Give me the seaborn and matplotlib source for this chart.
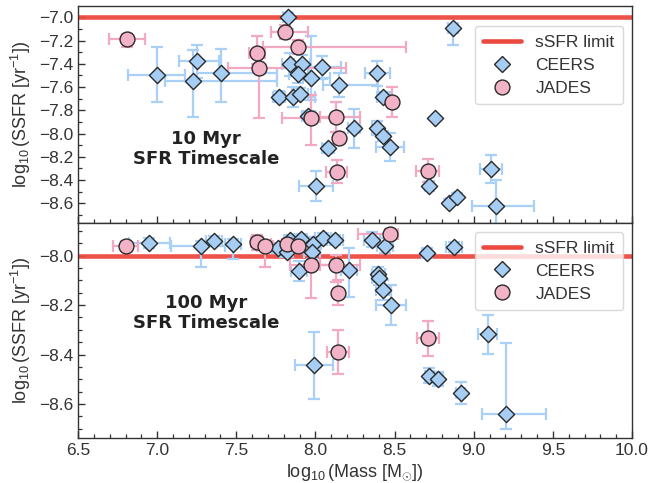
import numpy as np
import pandas as pd
import matplotlib
matplotlib.use("Agg")
import matplotlib.pyplot as plt
from matplotlib.lines import Line2D
from matplotlib.ticker import MultipleLocator, AutoMinorLocator
import seaborn as sns

# ---------------- data: 10 Myr panel ----------------
ceers10_mass = [7.825, 6.997, 7.228, 7.25, 7.405, 7.77, 7.86, 7.90, 7.84, 7.917,
                7.89, 7.97, 8.043, 8.146, 7.955, 8.244, 8.08, 8.004, 8.39, 8.43,
                8.387, 8.43, 8.47, 8.755, 8.87, 9.107, 8.72, 8.845, 8.896, 9.14]
ceers10_ssfr = [-6.995, -7.50, -7.548, -7.376, -7.476, -7.683, -7.683, -7.66, -7.404, -7.404,
                -7.488, -7.525, -7.43, -7.582, -7.849, -7.955, -8.127, -8.449, -7.482, -7.683,
                -7.955, -8.02, -8.113, -7.869, -7.095, -8.308, -8.449, -8.595, -8.543, -8.62]
ceers10_xlo = [0.03, 0.18, 0.18, 0.11, 0.155, 0.04, 0.10, 0.05, 0.05, 0.05,
               0.06, 0.05, 0.08, 0.10, 0.04, 0.04, 0.04, 0.11, 0.08, 0.04,
               0.03, 0.03, 0.09, 0.0, 0.03, 0.07, 0.03, 0.02, 0.02, 0.15]
ceers10_xhi = [0.03, 0.18, 0.53, 0.14, 0.35, 0.04, 0.14, 0.05, 0.08, 0.05,
               0.06, 0.12, 0.12, 0.25, 0.04, 0.04, 0.04, 0.11, 0.08, 0.04,
               0.03, 0.03, 0.09, 0.0, 0.03, 0.07, 0.03, 0.02, 0.02, 0.24]
ceers10_ylo = [0.11, 0.23, 0.31, 0.15, 0.25, 0.05, 0.09, 0.05, 0.10, 0.08,
               0.08, 0.19, 0.10, 0.10, 0.04, 0.17, 0.04, 0.13, 0.11, 0.04,
               0.06, 0.04, 0.12, 0.0, 0.14, 0.12, 0.03, 0.03, 0.03, 0.20]
ceers10_yhi = [0.03, 0.24, 0.27, 0.14, 0.20, 0.05, 0.08, 0.05, 0.10, 0.08,
               0.08, 0.36, 0.10, 0.10, 0.04, 0.17, 0.04, 0.13, 0.11, 0.04,
               0.06, 0.04, 0.12, 0.0, 0.02, 0.12, 0.03, 0.03, 0.03, 0.22]

jades10_mass = [6.81, 7.63, 7.645, 7.81, 7.89, 7.97, 8.13, 8.15, 8.134, 8.486, 8.709]
jades10_ssfr = [-7.187, -7.304, -7.433, -7.129, -7.253, -7.869, -7.86, -8.036, -8.328, -7.726, -8.319]
jades10_xlo = [0.115, 0.05, 0.20, 0.09, 0.22, 0.18, 0.10, 0.03, 0.065, 0.03, 0.074]
jades10_xhi = [0.115, 0.05, 0.55, 0.145, 0.68, 0.13, 0.15, 0.03, 0.065, 0.03, 0.074]
jades10_ylo = [0.07, 0.10, 0.43, 0.06, 0.06, 0.23, 0.13, 0.05, 0.10, 0.13, 0.10]
jades10_yhi = [0.04, 0.14, 0.10, 0.06, 0.06, 0.20, 0.13, 0.05, 0.10, 0.13, 0.10]

# ---------------- data: 100 Myr panel ----------------
ceers100_mass = [6.95, 7.28, 7.36, 7.48, 7.765, 7.818, 7.84, 7.907, 7.898, 7.986,
                 7.976, 8.046, 8.124, 8.214, 7.99, 8.355, 8.44, 8.703, 8.875, 8.397,
                 8.40, 8.425, 8.477, 9.088, 8.72, 8.776, 8.917, 9.204]
ceers100_ssfr = [-7.95, -7.961, -7.94, -7.953, -7.968, -7.984, -7.937, -7.932, -8.062, -7.953,
                 -7.984, -7.927, -7.936, -8.058, -8.443, -7.936, -7.96, -7.988, -7.964, -8.075,
                 -8.09, -8.139, -8.20, -8.318, -8.486, -8.499, -8.557, -8.642]
ceers100_xlo = [0.13, 0.19, 0.05, 0.05, 0.04, 0.04, 0.04, 0.04, 0.05, 0.05,
                0.05, 0.05, 0.05, 0.05, 0.12, 0.05, 0.05, 0.03, 0.05, 0.04,
                0.04, 0.04, 0.093, 0.06, 0.03, 0.03, 0.03, 0.15]
ceers100_xhi = [0.13, 0.15, 0.05, 0.05, 0.04, 0.04, 0.04, 0.04, 0.05, 0.05,
                0.05, 0.05, 0.05, 0.05, 0.12, 0.05, 0.05, 0.03, 0.05, 0.04,
                0.04, 0.04, 0.093, 0.06, 0.03, 0.03, 0.03, 0.25]
ceers100_ylo = [0.02, 0.085, 0.02, 0.06, 0.02, 0.02, 0.02, 0.02, 0.04, 0.03,
                0.03, 0.02, 0.02, 0.11, 0.135, 0.03, 0.03, 0.02, 0.02, 0.03,
                0.03, 0.04, 0.08, 0.08, 0.03, 0.03, 0.045, 0.06]
ceers100_yhi = [0.02, 0.02, 0.02, 0.02, 0.02, 0.02, 0.02, 0.02, 0.04, 0.03,
                0.03, 0.02, 0.02, 0.09, 0.135, 0.03, 0.03, 0.02, 0.02, 0.03,
                0.03, 0.04, 0.08, 0.08, 0.03, 0.03, 0.045, 0.29]

jades100_mass = [6.80, 7.63, 7.68, 7.82, 7.888, 7.97, 8.13, 8.145, 8.145, 8.47, 8.709]
jades100_ssfr = [-7.961, -7.946, -7.961, -7.953, -7.961, -8.038, -8.038, -8.15, -8.389, -7.913, -8.334]
jades100_xlo = [0.08, 0.04, 0.05, 0.10, 0.05, 0.13, 0.10, 0.03, 0.07, 0.20, 0.07]
jades100_xhi = [0.08, 0.04, 0.05, 0.10, 0.05, 0.13, 0.15, 0.03, 0.07, 0.05, 0.07]
jades100_ylo = [0.02, 0.03, 0.086, 0.02, 0.03, 0.135, 0.07, 0.05, 0.09, 0.02, 0.07]
jades100_yhi = [0.02, 0.03, 0.02, 0.02, 0.03, 0.04, 0.04, 0.05, 0.09, 0.02, 0.07]

limit_10 = -7.0
limit_100 = -8.0

# ---------------- style ----------------
sns.set_style("ticks")
plt.rcParams["font.family"] = ["Liberation Sans", "DejaVu Sans"]
plt.rcParams["mathtext.fontset"] = "custom"
plt.rcParams["mathtext.rm"] = "Liberation Sans"
plt.rcParams["mathtext.it"] = "Liberation Sans:italic"

BLUE_FACE = "#a6cdf3"
BLUE_ERR = "#a9d0f7"
PINK_FACE = "#f3b3c7"
PINK_ERR = "#f2a9c1"
RED = "#ec4a3f"
EDGE = "#2a2a2a"
DARK = "#333333"

fig = plt.figure(figsize=(6.64, 4.83), dpi=100)
ax_top = fig.add_axes([0.1175, 0.5389, 0.8343, 0.4487])
ax_bot = fig.add_axes([0.1175, 0.0932, 0.8343, 0.4457], sharex=ax_top)


def draw_panel(ax, cm, cs, cxl, cxh, cyl, cyh, jm, js, jxl, jxh, jyl, jyh, limit):
    ax.axhline(limit, color=RED, lw=3.3, alpha=0.95, zorder=1)
    ax.errorbar(cm, cs, xerr=[cxl, cxh], yerr=[cyl, cyh], fmt="none",
                ecolor=BLUE_ERR, elinewidth=1.6, capsize=4.5, capthick=1.6, zorder=2)
    ax.errorbar(jm, js, xerr=[jxl, jxh], yerr=[jyl, jyh], fmt="none",
                ecolor=PINK_ERR, elinewidth=1.6, capsize=4.5, capthick=1.6, zorder=2)
    dfc = pd.DataFrame({"mass": cm, "ssfr": cs})
    dfj = pd.DataFrame({"mass": jm, "ssfr": js})
    sns.scatterplot(data=dfc, x="mass", y="ssfr", marker="D", s=68, color=BLUE_FACE,
                    edgecolor=EDGE, linewidth=1.0, ax=ax, zorder=3, legend=False)
    sns.scatterplot(data=dfj, x="mass", y="ssfr", marker="o", s=115, color=PINK_FACE,
                    edgecolor=EDGE, linewidth=1.0, ax=ax, zorder=4, legend=False)


draw_panel(ax_top, ceers10_mass, ceers10_ssfr, ceers10_xlo, ceers10_xhi, ceers10_ylo, ceers10_yhi,
           jades10_mass, jades10_ssfr, jades10_xlo, jades10_xhi, jades10_ylo, jades10_yhi, limit_10)
draw_panel(ax_bot, ceers100_mass, ceers100_ssfr, ceers100_xlo, ceers100_xhi, ceers100_ylo, ceers100_yhi,
           jades100_mass, jades100_ssfr, jades100_xlo, jades100_xhi, jades100_ylo, jades100_yhi, limit_100)

ax_top.set_xlim(6.5, 10.0)
ax_top.set_ylim(-8.767, -6.903)
ax_bot.set_ylim(-8.7375, -7.8665)

ax_top.yaxis.set_major_locator(MultipleLocator(0.2))
ax_top.yaxis.set_minor_locator(MultipleLocator(0.1))
ax_bot.yaxis.set_major_locator(MultipleLocator(0.2))
ax_bot.yaxis.set_minor_locator(MultipleLocator(0.05))
ax_bot.xaxis.set_major_locator(MultipleLocator(0.5))
ax_bot.xaxis.set_minor_locator(MultipleLocator(0.1))

ylab = r"$\log_{10}$(SSFR [yr$^{-1}$])"
for ax in (ax_top, ax_bot):
    ax.tick_params(axis="both", which="major", direction="in", length=5, width=1,
                   color=DARK, labelcolor=DARK, labelsize=12.5, top=False, right=False)
    ax.tick_params(axis="both", which="minor", direction="in", length=3, width=0.9,
                   color=DARK, top=False, right=False)
    for sp in ax.spines.values():
        sp.set_color(DARK)
        sp.set_linewidth(1.0)
    ax.set_ylabel(ylab, fontsize=13, color=DARK, labelpad=4)

ax_top.tick_params(axis="x", labelbottom=False)
ax_top.set_xlabel("")
ax_bot.set_xlabel(r"$\log_{10}$(Mass [M$_{\odot}$])", fontsize=13, color=DARK, labelpad=3)

ax_top.text(7.31, -8.13, "10 Myr\nSFR Timescale", ha="center", va="center",
            fontsize=13, fontweight="bold", color="#222222", family="DejaVu Sans",
            linespacing=1.15)
ax_bot.text(7.31, -8.23, "100 Myr\nSFR Timescale", ha="center", va="center",
            fontsize=13, fontweight="bold", color="#222222", family="DejaVu Sans",
            linespacing=1.15)

handles = [
    Line2D([0], [0], color=RED, lw=3.3, label="sSFR limit"),
    Line2D([0], [0], marker="D", ls="none", mfc=BLUE_FACE, mec=EDGE, mew=1.0, ms=8.2, label="CEERS"),
    Line2D([0], [0], marker="o", ls="none", mfc=PINK_FACE, mec=EDGE, mew=1.0, ms=10.7, label="JADES"),
]
for ax, anchor in ((ax_top, (0.984, 0.908)), (ax_bot, (0.984, 0.958))):
    leg = ax.legend(handles=handles, loc="upper right", bbox_to_anchor=anchor,
                    borderaxespad=0.0, fontsize=12.5, frameon=True, fancybox=True,
                    labelspacing=0.45, handlelength=2.2, borderpad=0.5, handletextpad=0.8)
    leg.get_frame().set_edgecolor("#d0d0d0")
    for t in leg.get_texts():
        t.set_color(DARK)

fig.savefig("out.png", dpi=100)
